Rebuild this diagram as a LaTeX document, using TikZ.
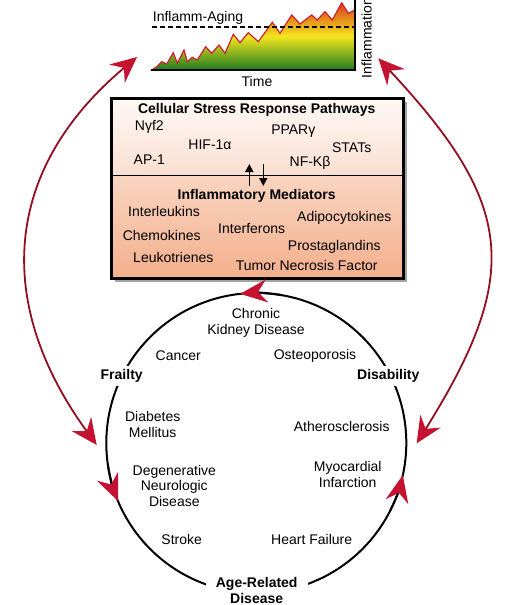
\documentclass[tikz,border=0pt]{standalone}
\usepackage{fontspec}
\setmainfont{Liberation Sans}
\usetikzlibrary{arrows.meta,shadows}
\definecolor{arrowred}{HTML}{C41230}
\definecolor{linered}{HTML}{930E20}
\definecolor{chartgreen}{HTML}{1E7B22}
\definecolor{chartyellow}{HTML}{F4E61E}
\definecolor{chartred}{HTML}{D63A1C}
\definecolor{zigred}{HTML}{D11F2F}
\definecolor{boxtopa}{HTML}{FEF8F5}
\definecolor{boxtopb}{HTML}{FADFD1}
\definecolor{boxbota}{HTML}{F9D5C1}
\definecolor{boxbotb}{HTML}{F3AF8C}
\tikzset{
  txt/.style={font=\fontsize{14}{15.5}\selectfont, align=center, inner sep=1pt},
  hdr/.style={font=\fontsize{14}{15.5}\selectfont\bfseries, align=center, inner sep=1pt},
  ringlabel/.style={hdr, fill=white, inner xsep=4pt, inner ysep=3pt},
  bigarrow/.style={draw=linered, line width=1.8pt,
    arrows={Stealth[length=26pt,width=24pt,inset=9pt,color=arrowred]-Stealth[length=26pt,width=24pt,inset=9pt,color=arrowred]}},
  ringtip/.style={line width=2pt,
    arrows={-Stealth[length=27pt,width=23pt,inset=9pt,color=arrowred]}},
  updown/.style={line width=1.6pt, arrows={-Triangle[length=8pt,width=8pt]}}
}
\begin{document}
\begin{tikzpicture}[x=1pt,y=1pt]
\useasboundingbox (0,0) rectangle (520,-605);
\draw[zigred, line width=1.2pt, top color=chartred, bottom color=chartgreen, middle color=chartyellow]
  (152,-70) -- (156.7,-66.7) -- (161.7,-61.7) -- (166.7,-64) -- (173.3,-52.7) -- (177.3,-63.3)
  -- (184,-50) -- (187.3,-61.7) -- (192.3,-57.3) -- (197.3,-60) -- (205.7,-46.7) -- (211.7,-53.3)
  -- (219,-45) -- (225,-53.3) -- (233.3,-34.3) -- (240,-42.7) -- (248.3,-32.7) -- (258.3,-41.7)
  -- (272.3,-22.3) -- (280,-33.3) -- (291.7,-15) -- (300,-24) -- (311.7,-15) -- (317.3,-20)
  -- (325,-11.7) -- (332.3,-20) -- (341.7,-2.7) -- (348.3,-13.3) -- (355,-10) -- (355,-70) -- cycle;
\draw[dash pattern=on 5pt off 3pt, line width=1.2pt] (152,-27) -- (355,-27);
\draw[line width=2pt] (151,-70) -- (355,-70) -- (355,0);
\node[txt] (aging) at (198,-18) {Inflamm-Aging};
\node[txt] (time) at (257,-81) {Time};
\node[txt, rotate=90] (inflam) at (366.5,-38) {Inflammation};
\path[fill=white, drop shadow={shadow xshift=3pt, shadow yshift=-3pt, fill=black!60, opacity=.6}]
  (111.5,-98.5) rectangle (403.5,-278.5);
\shade[top color=boxtopa, bottom color=boxtopb] (111.5,-98.5) rectangle (403.5,-175.5);
\shade[top color=boxbota, bottom color=boxbotb] (111.5,-175.5) rectangle (403.5,-278.5);
\draw[line width=.8pt] (111.5,-175.5) -- (403.5,-175.5);
\draw[line width=2.5pt] (111.5,-98.5) rectangle (403.5,-278.5);
\node[hdr] (stress) at (256.7,-110) {Cellular Stress Response Pathways};
\node[txt] (nrf) at (149.3,-127.3) {Nγf2};
\node[txt] (hif) at (210,-145) {HIF-1α};
\node[txt] (ap) at (149.3,-160) {AP-1};
\node[txt] (ppar) at (293.3,-130.7) {PPARγ};
\node[txt] (stats) at (351.7,-147.3) {STATs};
\node[txt] (nfkb) at (310,-163.3) {NF-Kβ};
\draw[updown] (249.3,-186) -- (249.3,-164);
\draw[updown] (263.3,-164) -- (263.3,-186);
\node[hdr] (mediators) at (256.7,-196) {Inflammatory Mediators};
\node[txt] (ils) at (164,-211.7) {Interleukins};
\node[txt] (chemo) at (161.7,-235.7) {Chemokines};
\node[txt] (leuko) at (173.3,-257.3) {Leukotrienes};
\node[txt] (ifn) at (251.7,-228.3) {Interferons};
\node[txt] (adipo) at (344.3,-218.3) {Adipocytokines};
\node[txt] (prosta) at (334.3,-246.7) {Prostaglandins};
\node[txt] (tnf) at (306.7,-265.7) {Tumor Necrosis Factor};
\coordinate (ring) at (256.3,-443);
\draw[line width=2pt] (ring) circle (150);
\draw[ringtip] (ring) ++(80:150) arc[start angle=80, end angle=96.2, radius=150];
\draw[ringtip] (ring) ++(188:150) arc[start angle=188, end angle=202.8, radius=150];
\draw[ringtip] (ring) ++(-27:150) arc[start angle=-27, end angle=-12.4, radius=150];
\node[ringlabel] (frailty) at (121.7,-376) {Frailty};
\node[ringlabel] (disab) at (388.3,-376) {Disability};
\node[ringlabel, inner xsep=10pt] (ard) at (256.7,-590.5) {Age-Related\\Disease};
\node[txt] (ckd) at (256,-323) {Chronic\\Kidney Disease};
\node[txt] (cancer) at (178.3,-356) {Cancer};
\node[txt] (osteo) at (315,-356) {Osteoporosis};
\node[txt] (dm) at (152.7,-424.5) {Diabetes\\Mellitus};
\node[txt] (athero) at (341.7,-426) {Atherosclerosis};
\node[txt] (dnd) at (174.3,-485.5) {Degenerative\\Neurologic\\Disease};
\node[txt] (mi) at (347.7,-474.5) {Myocardial\\Infarction};
\node[txt] (stroke) at (181.7,-539) {Stroke};
\node[txt] (hf) at (311.7,-539) {Heart Failure};
\coordinate (chartl) at (137,-57);
\coordinate (chartr) at (378.3,-58.3);
\coordinate (ringl) at (96.7,-445);
\coordinate (ringr) at (416.7,-443.3);
\draw[bigarrow] (chartl) to[out=220, in=126, looseness=1.15] (ringl);
\draw[bigarrow] (chartr) to[out=-47, in=58, looseness=1.32] (ringr);
\end{tikzpicture}
\end{document}
